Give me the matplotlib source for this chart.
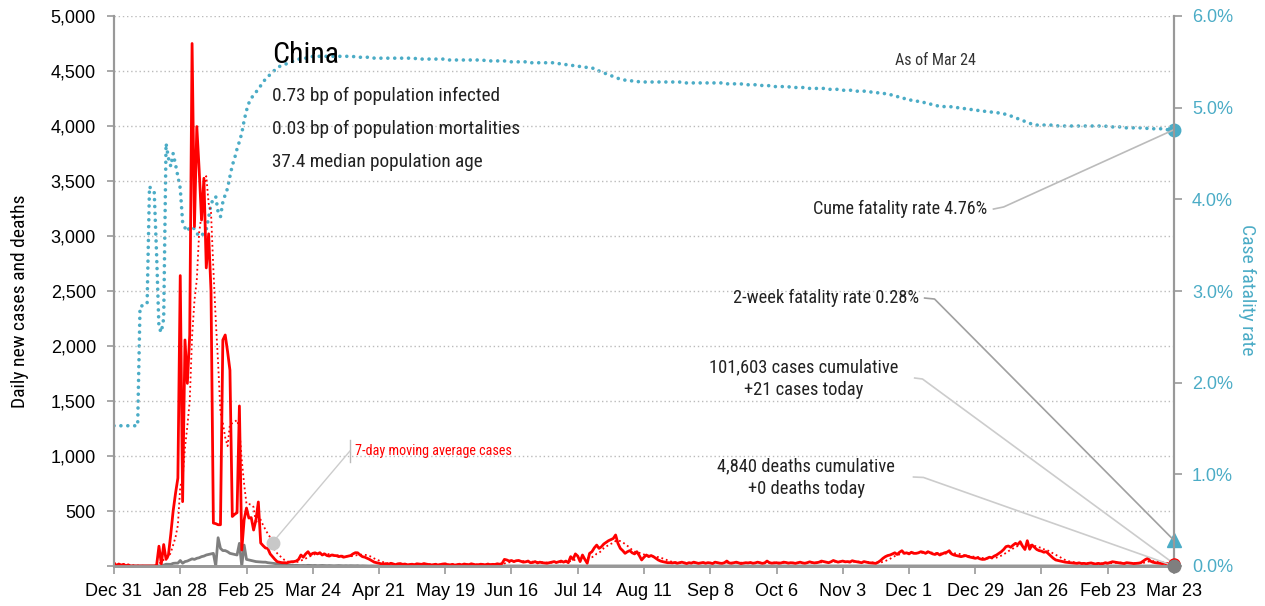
import numpy as np
import pandas as pd
import matplotlib
matplotlib.use("Agg")
import matplotlib.pyplot as plt
from matplotlib import font_manager

# ========== data ==========
# one value per day, starting Dec 31 2019, ending Mar 23 2021
cases = [
    27, 5, 18, 8, 15, 2, 10, 0, 0, 0, 0, 0, 0, 0,
    0, 0, 0, 0, 5, 180, 20, 195, 60, 100, 290, 500, 660, 800,
    2640, 585, 2055, 1660, 2100, 4750, 3085, 3995, 3600, 3145, 3525, 2710, 3020, 2500,
    390, 385, 375, 375, 2055, 2100, 1950, 1780, 450, 470, 485, 1455, 145, 420,
    527, 436, 440, 327, 420, 582, 209, 185, 164, 160, 110, 85, 60, 39,
    35, 30, 30, 28, 35, 39, 40, 45, 60, 100, 80, 110, 130, 100,
    115, 120, 110, 121, 100, 110, 95, 90, 100, 95, 94, 85, 90, 80,
    85, 90, 95, 110, 121, 120, 100, 85, 80, 70, 60, 48, 35, 30,
    24, 20, 18, 22, 15, 25, 18, 12, 20, 22, 15, 18, 10, 14,
    16, 12, 20, 18, 15, 22, 17, 14, 10, 12, 16, 8, 14, 18,
    20, 12, 10, 15, 8, 12, 16, 10, 18, 14, 12, 20, 15, 10,
    12, 16, 14, 10, 18, 12, 15, 14, 20, 16, 22, 60, 55, 45,
    50, 40, 48, 50, 42, 35, 38, 45, 30, 32, 40, 28, 35, 30,
    28, 25, 30, 35, 40, 32, 38, 45, 35, 45, 30, 85, 60, 110,
    90, 40, 100, 60, 25, 115, 130, 165, 190, 160, 175, 200, 215, 230,
    240, 250, 282, 205, 160, 140, 115, 130, 140, 120, 110, 130, 95, 55,
    80, 100, 85, 95, 85, 70, 55, 45, 39, 35, 30, 30, 28, 32,
    25, 30, 35, 28, 22, 30, 26, 35, 30, 24, 28, 32, 25, 30,
    28, 22, 35, 30, 26, 24, 30, 45, 28, 25, 30, 35, 28, 22,
    26, 30, 28, 32, 25, 28, 35, 30, 24, 28, 45, 30, 26, 28,
    30, 25, 28, 35, 32, 26, 30, 28, 24, 30, 35, 28, 25, 30,
    38, 32, 28, 30, 35, 45, 40, 35, 30, 38, 50, 42, 35, 40,
    45, 38, 40, 35, 48, 42, 38, 35, 30, 40, 35, 30, 28, 25,
    24, 35, 50, 70, 85, 95, 100, 110, 120, 105, 125, 139, 115, 120,
    110, 125, 115, 115, 120, 130, 125, 115, 130, 120, 110, 105, 115, 100,
    110, 120, 125, 139, 110, 100, 95, 90, 85, 90, 95, 85, 80, 75,
    70, 75, 65, 60, 61, 70, 80, 75, 90, 100, 115, 130, 150, 176,
    182, 170, 190, 206, 195, 221, 180, 150, 230, 152, 191, 170, 150, 140,
    135, 125, 130, 110, 90, 70, 55, 50, 45, 39, 35, 32, 30, 28,
    25, 24, 28, 22, 24, 20, 25, 28, 22, 18, 24, 20, 22, 30,
    25, 32, 39, 35, 30, 28, 25, 22, 30, 28, 25, 22, 24, 26,
    30, 45, 60, 70, 45, 35, 30, 28, 25, 22, 24, 20, 18, 15,
    21,
]

deaths = [
    0, 0, 0, 0, 0, 0, 0, 0, 0, 0, 0, 0, 0, 0,
    0, 0, 0, 0, 0, 1, 2, 8, 16, 15, 15, 24, 26, 26,
    50, 25, 40, 45, 55, 65, 60, 70, 75, 85, 90, 100, 105, 110,
    115, 0, 257, 160, 140, 140, 130, 115, 110, 105, 100, 206, 0, 190,
    60, 55, 50, 45, 40, 38, 35, 35, 35, 30, 28, 25, 22, 20,
    15, 12, 10, 8, 8, 6, 5, 6, 5, 4, 5, 4, 6, 5,
    4, 5, 3, 4, 5, 4, 3, 4, 3, 2, 3, 4, 3, 2,
    3, 2, 3, 2, 2, 3, 1, 2, 1, 1, 0, 1, 0, 1,
    0, 1, 0, 0, 1, 0, 0, 0, 1, 0, 0, 0, 0, 1,
    0, 0, 0, 1, 0, 0, 0, 0, 0, 1, 0, 0, 0, 0,
    0, 0, 1, 0, 0, 0, 0, 0, 0, 0, 1, 0, 0, 0,
    0, 0, 0, 0, 0, 0, 1, 0, 0, 0, 0, 0, 0, 0,
    0, 0, 0, 0, 0, 0, 0, 0, 0, 0, 0, 0, 0, 0,
    0, 0, 0, 0, 0, 0, 0, 0, 0, 0, 0, 0, 0, 0,
    0, 0, 0, 0, 0, 0, 0, 0, 0, 0, 0, 0, 0, 0,
    0, 0, 0, 0, 0, 0, 0, 0, 0, 0, 0, 0, 0, 0,
    0, 0, 0, 0, 0, 0, 0, 0, 0, 0, 0, 0, 0, 0,
    0, 0, 0, 0, 0, 0, 0, 0, 0, 0, 0, 0, 0, 0,
    0, 0, 0, 0, 0, 0, 0, 0, 0, 0, 0, 0, 0, 0,
    0, 0, 0, 0, 0, 0, 0, 0, 0, 0, 0, 0, 0, 0,
    0, 0, 0, 0, 0, 0, 0, 0, 0, 0, 0, 0, 0, 0,
    0, 0, 0, 0, 0, 0, 0, 0, 0, 0, 0, 0, 0, 0,
    0, 0, 0, 0, 0, 0, 0, 0, 0, 0, 0, 0, 0, 0,
    0, 0, 0, 0, 0, 0, 0, 0, 0, 0, 0, 0, 0, 0,
    0, 0, 0, 0, 0, 0, 0, 0, 0, 0, 0, 0, 0, 0,
    0, 0, 0, 0, 0, 0, 0, 0, 0, 0, 0, 0, 0, 0,
    0, 0, 0, 0, 0, 0, 0, 0, 0, 0, 0, 0, 0, 0,
    0, 0, 0, 0, 0, 0, 0, 0, 0, 0, 0, 0, 0, 0,
    0, 0, 0, 0, 0, 0, 0, 0, 0, 0, 0, 0, 0, 0,
    0, 0, 0, 0, 0, 0, 0, 0, 0, 0, 0, 0, 0, 0,
    0, 0, 0, 0, 0, 0, 0, 0, 0, 0, 0, 0, 0, 0,
    0, 0, 0, 0, 0, 0, 0, 0, 0, 0, 0, 0, 0, 0,
    0,
]

# cumulative case fatality rate, percent
cfr = [
    1.53, 1.53, 1.53, 1.53, 1.53, 1.53, 1.53, 1.53, 1.53, 1.53, 1.53, 2.83, 2.84, 2.85,
    2.86, 4.14, 4.10, 4.08, 3.40, 2.60, 2.55, 2.70, 4.61, 4.45, 4.36, 4.50, 4.38, 4.25,
    4.12, 3.75, 3.69, 3.65, 3.70, 3.69, 3.68, 3.63, 3.60, 3.60, 3.64, 3.67, 3.80, 3.95,
    4.00, 4.03, 3.86, 3.81, 3.97, 4.05, 4.12, 4.25, 4.37, 4.45, 4.55, 4.63, 4.72, 4.86,
    4.97, 5.05, 5.10, 5.14, 5.17, 5.20, 5.24, 5.28, 5.31, 5.34, 5.36, 5.39, 5.41, 5.43,
    5.45, 5.46, 5.47, 5.48, 5.49, 5.50, 5.51, 5.52, 5.53, 5.53, 5.54, 5.54, 5.55, 5.55,
    5.56, 5.56, 5.56, 5.56, 5.56, 5.56, 5.56, 5.56, 5.56, 5.56, 5.56, 5.56, 5.56, 5.56,
    5.56, 5.56, 5.56, 5.56, 5.55, 5.55, 5.55, 5.55, 5.55, 5.55, 5.55, 5.55, 5.54, 5.54,
    5.54, 5.54, 5.54, 5.54, 5.54, 5.54, 5.54, 5.54, 5.54, 5.54, 5.54, 5.54, 5.54, 5.54,
    5.54, 5.54, 5.53, 5.53, 5.53, 5.53, 5.53, 5.53, 5.53, 5.53, 5.53, 5.53, 5.53, 5.53,
    5.52, 5.52, 5.52, 5.52, 5.52, 5.52, 5.52, 5.52, 5.52, 5.52, 5.52, 5.52, 5.52, 5.52,
    5.52, 5.52, 5.52, 5.51, 5.51, 5.51, 5.51, 5.51, 5.51, 5.51, 5.51, 5.51, 5.50, 5.50,
    5.50, 5.50, 5.50, 5.50, 5.50, 5.50, 5.50, 5.50, 5.49, 5.49, 5.49, 5.49, 5.49, 5.49,
    5.49, 5.49, 5.49, 5.49, 5.49, 5.49, 5.48, 5.48, 5.47, 5.47, 5.46, 5.46, 5.46, 5.45,
    5.45, 5.45, 5.45, 5.44, 5.44, 5.44, 5.43, 5.43, 5.42, 5.40, 5.39, 5.38, 5.37, 5.36,
    5.35, 5.34, 5.33, 5.32, 5.31, 5.31, 5.30, 5.30, 5.30, 5.29, 5.29, 5.29, 5.28, 5.28,
    5.28, 5.28, 5.28, 5.28, 5.28, 5.28, 5.28, 5.28, 5.28, 5.28, 5.28, 5.28, 5.28, 5.28,
    5.28, 5.28, 5.27, 5.27, 5.27, 5.27, 5.27, 5.27, 5.27, 5.27, 5.27, 5.27, 5.27, 5.27,
    5.27, 5.27, 5.27, 5.27, 5.27, 5.27, 5.26, 5.26, 5.26, 5.26, 5.26, 5.26, 5.26, 5.26,
    5.25, 5.25, 5.25, 5.25, 5.25, 5.25, 5.25, 5.25, 5.24, 5.24, 5.24, 5.24, 5.23, 5.23,
    5.23, 5.23, 5.23, 5.23, 5.23, 5.23, 5.22, 5.22, 5.22, 5.22, 5.22, 5.22, 5.22, 5.22,
    5.21, 5.21, 5.21, 5.21, 5.21, 5.21, 5.21, 5.21, 5.20, 5.20, 5.20, 5.20, 5.20, 5.20,
    5.19, 5.19, 5.19, 5.19, 5.19, 5.19, 5.18, 5.18, 5.18, 5.18, 5.18, 5.18, 5.17, 5.17,
    5.17, 5.16, 5.16, 5.16, 5.15, 5.15, 5.14, 5.14, 5.13, 5.12, 5.12, 5.11, 5.10, 5.10,
    5.09, 5.08, 5.08, 5.07, 5.07, 5.06, 5.06, 5.05, 5.04, 5.04, 5.03, 5.03, 5.02, 5.02,
    5.02, 5.01, 5.01, 5.01, 5.01, 5.00, 5.00, 5.00, 4.99, 4.99, 4.99, 4.98, 4.98, 4.98,
    4.98, 4.97, 4.97, 4.97, 4.96, 4.96, 4.96, 4.95, 4.95, 4.95, 4.94, 4.94, 4.93, 4.93,
    4.92, 4.91, 4.90, 4.89, 4.88, 4.87, 4.86, 4.85, 4.84, 4.83, 4.82, 4.82, 4.81, 4.81,
    4.81, 4.81, 4.81, 4.81, 4.81, 4.81, 4.81, 4.80, 4.80, 4.80, 4.80, 4.80, 4.80, 4.80,
    4.80, 4.80, 4.80, 4.80, 4.80, 4.80, 4.80, 4.80, 4.80, 4.80, 4.80, 4.80, 4.80, 4.80,
    4.79, 4.79, 4.79, 4.79, 4.79, 4.79, 4.79, 4.78, 4.78, 4.78, 4.78, 4.78, 4.78, 4.78,
    4.78, 4.78, 4.78, 4.77, 4.77, 4.77, 4.77, 4.77, 4.77, 4.77, 4.77, 4.76, 4.76, 4.76,
    4.76,
]

tick_labels = ["Dec 31", "Jan 28", "Feb 25", "Mar 24", "Apr 21", "May 19", "Jun 16",
               "Jul 14", "Aug 11", "Sep 8", "Oct 6", "Nov 3", "Dec 1", "Dec 29",
               "Jan 26", "Feb 23", "Mar 23"]

total_cases = 101603
total_deaths = 4840
two_week_cfr = 0.28
# ===========================================================

RED = "#ff0000"
GRAY = "#7f7f7f"
TEAL = "#4bacc6"

# condensed font for the annotations, if we have one
available = {f.name for f in font_manager.fontManager.ttflist}
NARROW = "DejaVu Sans"
for name in ["Liberation Sans Narrow", "Roboto Condensed", "Open Sans Condensed"]:
    if name in available:
        NARROW = name
        break
PLAIN = "Liberation Sans"

plt.rcParams["font.family"] = [PLAIN, "DejaVu Sans"]


def main():
    days = np.arange(len(cases))
    ma = pd.Series(cases).rolling(7, min_periods=1).mean()
    k = 5000 / 6  # percent -> left-axis units

    fig = plt.figure(figsize=(12.65, 6.06), dpi=100)
    ax = fig.add_axes([114 / 1265, 40 / 606, 1060 / 1265, 550 / 606])
    ax2 = ax.twinx()
    ax.set_zorder(ax2.get_zorder() + 1)
    ax.patch.set_visible(False)

    # fatality rate on the right axis
    ax2.plot(days, cfr, color=TEAL, lw=2.6, linestyle=(0, (0.01, 1.9)),
             dash_capstyle="round")
    ax2.plot(days[-1], cfr[-1], "o", color=TEAL, ms=9, clip_on=False)
    ax2.plot(days[-1], two_week_cfr, "^", color=TEAL, ms=10, clip_on=False)
    ax2.set_ylim(0, 6)
    ax2.set_yticks(np.arange(0, 6.1, 1))
    ax2.set_yticklabels([f"{v:.1f}%" for v in np.arange(0, 6.1, 1)])
    ax2.tick_params(axis="y", colors=TEAL, labelsize=13, length=6, width=1.2, pad=7)
    ax2.tick_params(axis="y", color="#999999")

    # cases and deaths on the left axis
    ax.plot(days, ma, color=RED, lw=1.3, linestyle=(0, (1, 1.6)))
    ax.plot(days, deaths, color=GRAY, lw=2.0)
    ax.plot(days, cases, color=RED, lw=2.0)
    ax.plot(days[-1], cases[-1], "o", color=RED, ms=8, clip_on=False, zorder=5)
    ax.plot(days[-1], deaths[-1], "o", color=GRAY, ms=9, clip_on=False, zorder=6)

    ax.set_xlim(0, len(cases) - 1)
    ax.set_ylim(0, 5000)
    ax.set_yticks(np.arange(0, 5001, 500))
    ax.set_yticklabels(["" if v == 0 else f"{v:,}" for v in range(0, 5001, 500)])
    ax.set_xticks(np.arange(0, len(cases), 28))
    ax.set_xticklabels(tick_labels)
    ax.tick_params(axis="y", labelsize=13, length=5, width=1.2, color="#999999", pad=8)
    ax.tick_params(axis="x", labelsize=13, length=6, width=1.2, color="#999999", pad=6)
    ax.yaxis.grid(True, linestyle=(0, (1, 2)), color="#bbbbbb", lw=1)
    ax.set_axisbelow(True)

    for a in (ax, ax2):
        a.spines["top"].set_visible(False)
        a.spines["left"].set_color("#999999")
        a.spines["right"].set_color("#999999")
        a.spines["bottom"].set_color("#999999")
        a.spines["left"].set_linewidth(1.5)
        a.spines["right"].set_linewidth(1.5)
        a.spines["bottom"].set_linewidth(2)

    nf = [NARROW, "DejaVu Sans"]

    fig.text(20 / 1265, 1 - 301 / 606, "Daily new cases and deaths", rotation=90,
             ha="center", va="center", fontsize=14, family=nf)
    fig.text(1247 / 1265, 1 - 290 / 606, "Case fatality rate", rotation=270,
             ha="center", va="center", fontsize=14, color=TEAL, family=nf)

    # country block
    ax.text(67, 4645, "China", fontsize=21.5, family=nf, va="center", ha="left")
    ax.text(66.7, 4273, "0.73 bp of population infected", fontsize=13.9, family=nf,
            va="center", color="#222222")
    ax.text(66.7, 3973, "0.03 bp of population mortalities", fontsize=13.9, family=nf,
            va="center", color="#222222")
    ax.text(66.7, 3673, "37.4 median population age", fontsize=13.9, family=nf,
            va="center", color="#222222")

    ax.text(347, 4591, "As of Mar 24", fontsize=11.5, family=nf, ha="center",
            va="center", color="#333333")

    # moving average callout
    anchor = 67
    ax.plot([99.7, 99.7], [945, 1145], color="#bbbbbb", lw=1)
    ax.plot([99.7, anchor], [1045, ma[anchor]], color="#cccccc", lw=1)
    ax.plot(anchor, ma[anchor], "o", color="#c8c8c8", ms=9, zorder=6)
    ax.text(101.8, 1045, "7-day moving average cases", fontsize=10.2, family=nf,
            color=RED, va="center", ha="left")

    # right-hand callouts
    last = days[-1]
    ax.text(369.2, 3245, f"Cume fatality rate {cfr[-1]:.2f}%", fontsize=13.1, family=nf,
            ha="right", va="center", color="#222222")
    ax.plot([371.7, 376.0, last], [3245, 3264, cfr[-1] * k], color="#bbbbbb",
            lw=1.2, clip_on=False)

    ax.text(340.3, 2436, f"2-week fatality rate {two_week_cfr:.2f}%", fontsize=13.2,
            family=nf, ha="right", va="center", color="#222222")
    ax.plot([342.6, 346.8, last], [2436, 2427, two_week_cfr * k], color="#a0a0a0",
            lw=1.2, clip_on=False)

    ax.text(291.4, 1705, f"{total_cases:,} cases cumulative\n+{cases[-1]} cases today",
            fontsize=13.3, family=nf, ha="center", va="center", linespacing=1.3,
            color="#222222")
    ax.plot([338.4, 341.7, last], [1709, 1700, cases[-1]], color="#cccccc",
            lw=1.2, clip_on=False)

    ax.text(292.6, 805, f"{total_deaths:,} deaths cumulative\n+{deaths[-1]} deaths today",
            fontsize=13.3, family=nf, ha="center", va="center", linespacing=1.35,
            color="#222222")
    ax.plot([337.9, 342.1, last], [809, 805, deaths[-1]], color="#cccccc",
            lw=1.2, clip_on=False)

    fig.savefig("out.png", dpi=100)
    plt.close(fig)


if __name__ == "__main__":
    main()
